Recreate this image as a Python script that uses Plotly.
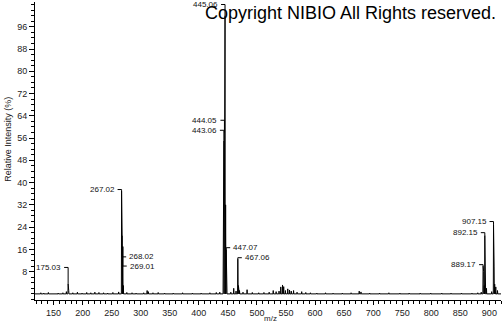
import plotly.graph_objects as go

# ---------------- data ----------------
peak_mz = [128, 133, 141, 158, 166, 172, 175.03, 176.03, 183, 191, 199, 207, 214, 221,
           228, 236, 243, 252, 262, 267.02, 268.02, 269.01, 270.01, 276, 285, 292, 305,
           311, 313, 321, 330, 341, 356, 372, 389, 404, 419, 430, 436,
           442.05, 443.06, 444.05, 445.06, 446.06, 447.07, 448.07, 455, 460, 464,
           467.06, 468.06, 470, 476, 483, 492, 503, 512, 521, 528, 533, 538, 541, 544,
           546, 549, 553, 556, 559, 563, 569, 577, 584, 592, 603, 618, 631, 647, 662,
           676, 679, 694, 711, 727, 746, 762, 781, 799, 818, 834, 852, 870, 880, 886,
           889.17, 890.17, 891.2, 892.15, 893.15, 895, 904, 907.15, 908.15, 909.15, 911, 914]
peak_int = [0.4, 0.3, 0.5, 0.3, 0.4, 0.8, 3.6, 1.2, 0.4, 0.6, 0.3, 0.5, 0.4, 0.6,
            0.5, 0.4, 0.3, 0.5, 0.7, 37.0, 21.0, 17.0, 3.0, 0.5, 0.4, 0.3, 0.4,
            1.2, 0.8, 0.4, 0.5, 0.3, 0.3, 0.4, 0.3, 0.3, 0.4, 0.5, 0.6,
            28.0, 55.0, 58.0, 100.0, 32.0, 16.0, 4.0, 0.6, 2.0, 1.0,
            12.5, 3.0, 1.2, 0.6, 1.5, 0.5, 0.4, 0.5, 0.6, 1.2, 0.8, 1.0, 2.5, 3.2,
            2.6, 1.2, 1.8, 1.4, 1.0, 1.2, 0.6, 0.8, 0.5, 0.4, 0.3, 0.4, 0.3, 0.3, 0.4,
            1.0, 0.7, 0.3, 0.3, 0.4, 0.3, 0.3, 0.3, 0.3, 0.3, 0.3, 0.3, 0.3, 0.4, 0.6,
            10.0, 8.0, 3.0, 21.0, 9.0, 2.0, 0.8, 25.0, 10.0, 3.5, 2.5, 1.2]

label_mz = [175.03, 267.02, 268.02, 269.01, 443.06, 444.05, 445.06, 447.07, 467.06,
            889.17, 892.15, 907.15]
label_text = ["175.03", "267.02", "268.02", "269.01", "443.06", "444.05", "445.06",
              "447.07", "467.06", "889.17", "892.15", "907.15"]

x_tick_vals = list(range(150, 901, 50))
y_tick_vals = list(range(8, 97, 8))

# ---------------- label layout (styling) ----------------
label_y = {175.03: 9.5, 267.02: 37.5, 268.02: 13.3, 269.01: 10.0, 443.06: 58.8,
           444.05: 62.4, 445.06: 104.0, 447.07: 16.6, 467.06: 13.0,
           889.17: 10.5, 892.15: 22.0, 907.15: 26.0}
label_side = {175.03: "l", 267.02: "l", 268.02: "r", 269.01: "r", 443.06: "l",
              444.05: "l", 445.06: "l", 447.07: "r", 467.06: "r",
              889.17: "l", 892.15: "l", 907.15: "l"}

XMIN, XMAX = 118, 920
YMIN, YMAX = -2.2, 104.9
W, H = 504, 325
ML, MR, MT, MB = 35, 3, 2, 25
px_per_unit = (W - ML - MR) / (XMAX - XMIN)

# stick spectrum drawn as a continuous line
half = 0.4
pairs = sorted(zip(peak_mz, peak_int))
xs, ys = [XMIN], [0.0]
for m, h in pairs:
    xs += [m - half, m, m + half]
    ys += [0.0, h, 0.0]
xs.append(XMAX)
ys.append(0.0)

fig = go.Figure()
fig.add_trace(go.Scatter(x=xs, y=ys, mode="lines",
                         line=dict(color="black", width=1), hoverinfo="skip"))

FAM = "Liberation Sans, Arial, sans-serif"
inten = dict(zip(peak_mz, peak_int))
font_small = dict(family=FAM, size=8, color="#111")
lead_units = 4 / px_per_unit
annotations = []
shapes = []
for m, t in zip(label_mz, label_text):
    ly = label_y[m]
    h = inten[m]
    if label_side[m] == "l":
        x0 = m - lead_units
        annotations.append(dict(x=m, y=ly, xref="x", yref="y", text=t, showarrow=False,
                                xanchor="right", yanchor="middle", xshift=-5, font=font_small))
    else:
        x0 = m + lead_units
        annotations.append(dict(x=m, y=ly, xref="x", yref="y", text=t, showarrow=False,
                                xanchor="left", yanchor="middle", xshift=5, font=font_small))
    shapes.append(dict(type="path", xref="x", yref="y",
                       path=f"M {x0} {ly} L {m} {ly} L {m} {h}",
                       line=dict(color="black", width=1)))

annotations.append(dict(x=0, y=0.538, xref="paper", yref="paper",
                        text="Relative Intensity (%)", textangle=-90, showarrow=False,
                        xanchor="center", yanchor="middle", xshift=-27,
                        font=dict(family=FAM, size=9, color="#222")))
annotations.append(dict(x=(270 - ML) / (W - ML - MR), y=0, xref="paper", yref="paper",
                        text="m/z", showarrow=False, xanchor="center", yanchor="middle",
                        yshift=-18,
                        font=dict(family=FAM, size=8, color="#222")))
annotations.append(dict(x=(350 - ML) / (W - ML - MR), y=1,
                        xref="paper", yref="paper",
                        text="Copyright NIBIO All Rights reserved.", showarrow=False,
                        xanchor="center", yanchor="middle", yshift=-11,
                        font=dict(family=FAM, size=18, color="black")))

tickfont = dict(family=FAM, size=9, color="#222")
fig.update_layout(
    width=W, height=H,
    margin=dict(l=ML, r=MR, t=MT, b=MB),
    plot_bgcolor="white", paper_bgcolor="white",
    showlegend=False,
    annotations=annotations,
    shapes=shapes,
    xaxis=dict(range=[XMIN, XMAX], tickmode="array", tickvals=x_tick_vals,
               ticks="outside", ticklen=4, tickcolor="black", tickwidth=1,
               showline=True, linecolor="black", linewidth=1,
               showgrid=False, zeroline=False, tickfont=tickfont,
               minor=dict(tickmode="linear", tick0=0, dtick=10, ticks="outside",
                          ticklen=3, tickcolor="black", showgrid=False)),
    yaxis=dict(range=[YMIN, YMAX], tickmode="array", tickvals=y_tick_vals,
               ticks="outside", ticklen=5, tickcolor="black", tickwidth=1,
               showline=True, linecolor="black", linewidth=1,
               showgrid=False, zeroline=False, tickfont=tickfont,
               minor=dict(tickmode="linear", tick0=0, dtick=2, ticks="outside",
                          ticklen=3, tickcolor="black", showgrid=False)),
)

fig.write_html("out.html")
